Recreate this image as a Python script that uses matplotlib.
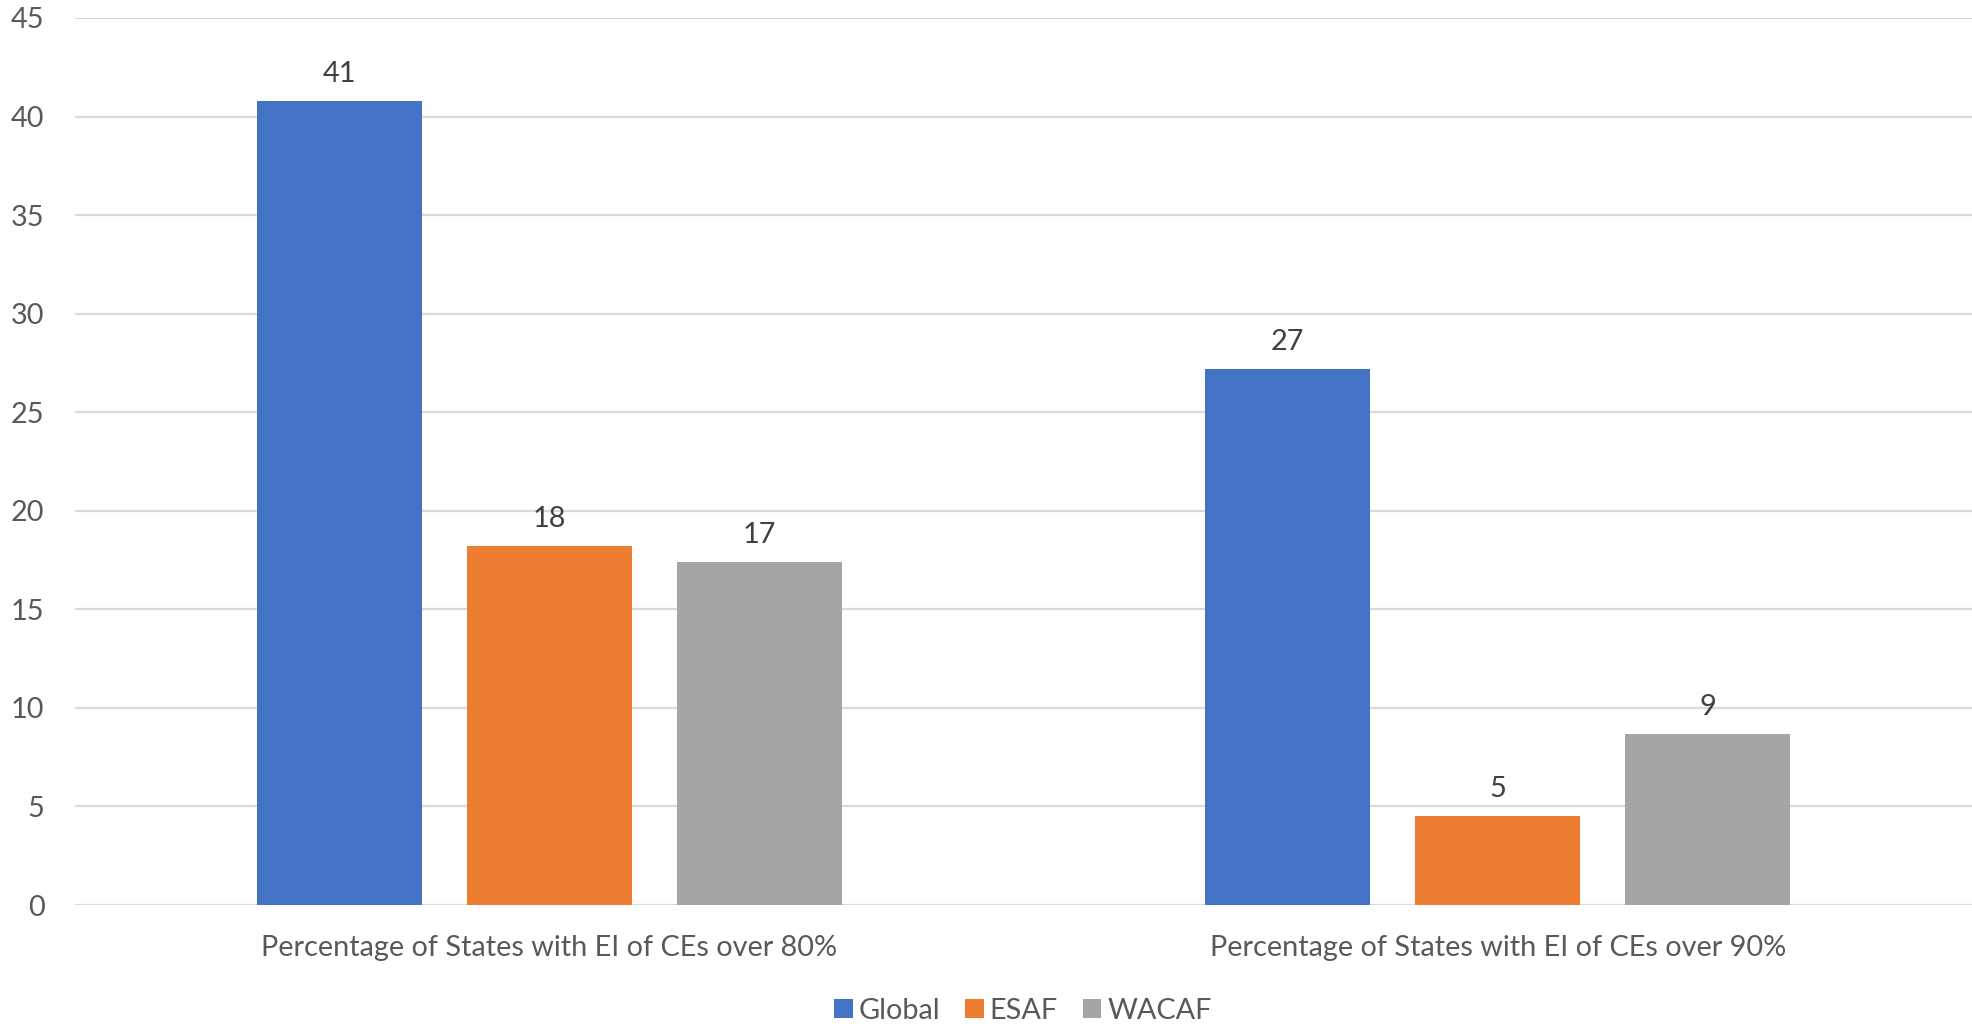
import matplotlib
matplotlib.use("Agg")
import matplotlib.pyplot as plt
from matplotlib.patches import Patch
import numpy as np

categories = ["Percentage of States with EI of CEs over 80%",
              "Percentage of States with EI of CEs over 90%"]
series_names = ["Global", "ESAF", "WACAF"]
global_vals = [40.8, 27.2]
esaf_vals = [18.2, 4.5]
wacaf_vals = [17.4, 8.7]
y_ticks = [0, 5, 10, 15, 20, 25, 30, 35, 40, 45]

colors = ["#4472C4", "#ED7D31", "#A5A5A5"]
plt.rcParams["font.family"] = ["Lato", "DejaVu Sans"]
FS = 20.8

fig = plt.figure(figsize=(19.72, 10.30), dpi=100)
ax = fig.add_axes([75 / 1972, 125 / 1030, 1 - 75 / 1972, (1012 - 125) / 1030])

x = np.arange(len(categories))
bar_w = 0.1737
pitch = 0.2214
all_vals = [global_vals, esaf_vals, wacaf_vals]
for i, (vals, col) in enumerate(zip(all_vals, colors)):
    pos = x + (i - 1) * pitch
    bars = ax.bar(pos, vals, width=bar_w, color=col, zorder=3)
    for b, v in zip(bars, vals):
        ax.annotate(f"{int(v + 0.5)}", (b.get_x() + b.get_width() / 2, v),
                    xytext=(0, 10), textcoords="offset points",
                    ha="center", va="bottom", fontsize=FS, color="#404040")

ax.set_xlim(-0.5, 1.5)
ax.set_ylim(0, 45)
ax.set_yticks(y_ticks)
ax.set_xticks(x)
ax.set_xticklabels(categories, fontsize=FS, color="#595959")
ax.tick_params(axis="y", labelsize=FS, labelcolor="#595959", length=0, pad=22)
ax.tick_params(axis="x", length=0, pad=21.5)
ax.yaxis.grid(True, color="#D9D9D9", linewidth=1.6, zorder=0)
ax.set_axisbelow(True)
for s in ax.spines.values():
    s.set_visible(False)

handles = [Patch(facecolor=c, label=n) for c, n in zip(colors, series_names)]
fig.legend(handles=handles, loc="center", bbox_to_anchor=(1023 / 1972, 1 - 1011 / 1030),
           ncol=3, frameon=False, fontsize=FS, labelcolor="#595959",
           handlelength=0.65, handleheight=0.65, handletextpad=0.2, columnspacing=0.85)

fig.savefig("out.png", dpi=100)
